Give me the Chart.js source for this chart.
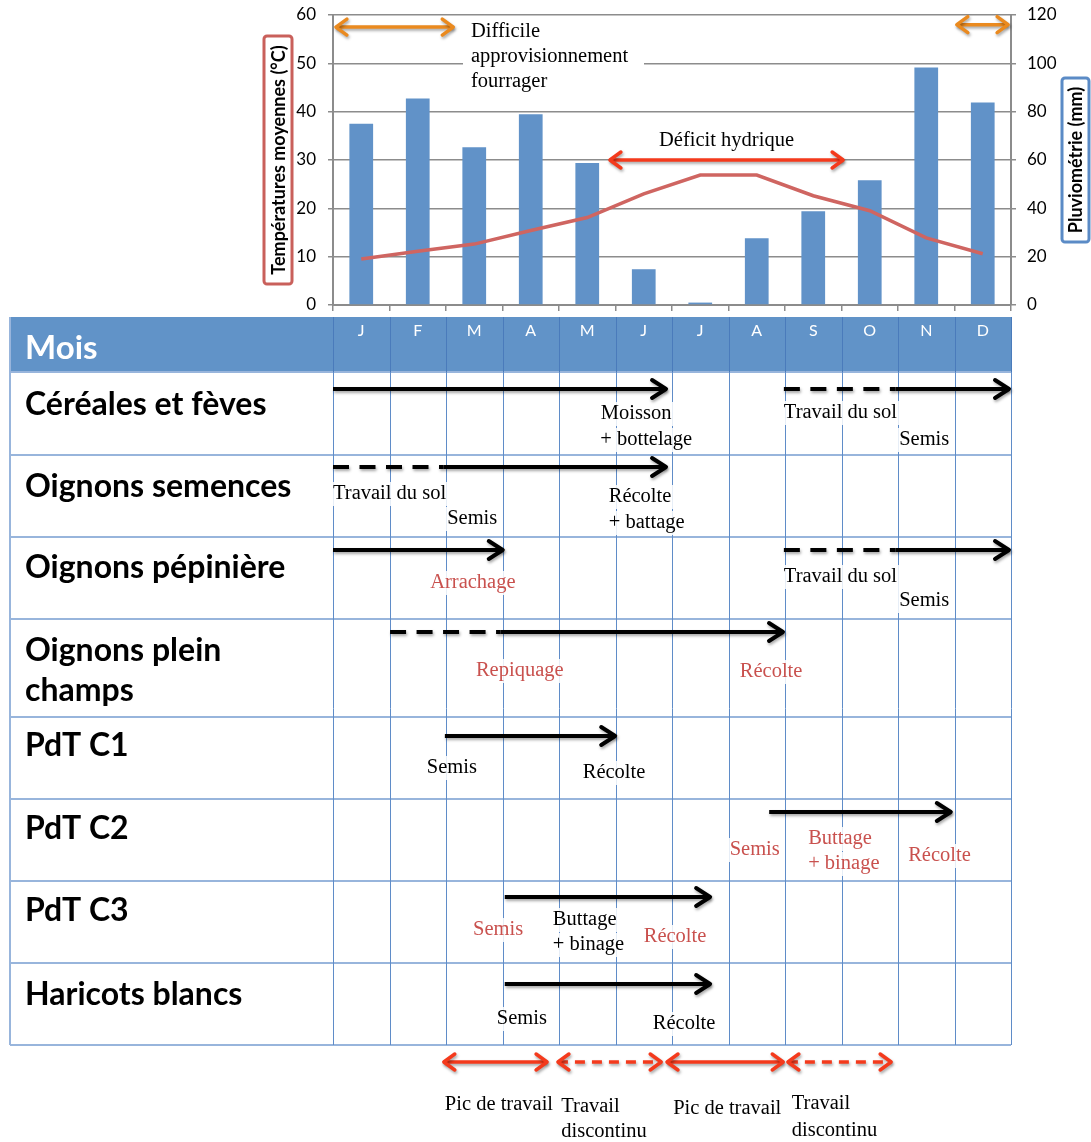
<!DOCTYPE html>
<html><head><meta charset="utf-8">
<script src="https://cdn.jsdelivr.net/npm/chart.js@4/dist/chart.umd.min.js"></script>
<style>html,body{margin:0;padding:0;background:#fff;}canvas{display:block;}</style>
</head><body>
<canvas id="c" width="1091" height="1142"></canvas>
<script>
// ---------- data ----------
const months = ['J','F','M','A','M','J','J','A','S','O','N','D'];
const rainfall = [75, 85.4, 65.3, 78.9, 58.8, 14.8, 1, 27.6, 38.8, 51.6, 98.3, 83.8];      // mm
const temperature = [9.5, 11.1, 12.6, 15.4, 18.1, 23.0, 26.9, 26.9, 22.6, 19.5, 13.9, 10.6]; // °C
const tempRange = [0, 60, 10];
const rainRange = [0, 120, 20];

const crops = ['Céréales et fèves', 'Oignons semences', 'Oignons pépinière', 'Oignons plein\nchamps',
               'PdT C1', 'PdT C2', 'PdT C3', 'Haricots blancs'];
// crop operations (months elapsed since 1 January)
const opRow    = [0, 0, 0, 1, 1, 2, 2, 2, 3, 3, 4, 5, 6, 7];
const opStart  = [0, 7.98, 9.96, 0, 1.96, 0, 7.98, 9.96, 1.01, 2.96, 1.98, 7.72, 3.04, 3.04];
const opEnd    = [5.93, 9.96, 12, 1.96, 5.93, 3.04, 9.96, 12, 2.96, 8.0, 5.03, 10.97, 6.71, 6.71];
const opDashed = [0, 1, 0, 1, 0, 0, 1, 0, 1, 0, 0, 0, 0, 0];

// notes: [row, month, text, red]
const notes = [
  [0, 4.74, 'Moisson', 0], [0, 4.73, '+ bottelage', 0], [0, 7.98, 'Travail du sol', 0], [0, 10.02, 'Semis', 0],
  [1, 0, 'Travail du sol', 0], [1, 2.02, 'Semis', 0], [1, 4.88, 'Récolte', 0], [1, 4.88, '+ battage', 0],
  [2, 1.72, 'Arrachage', 1], [2, 7.98, 'Travail du sol', 0], [2, 10.02, 'Semis', 0],
  [3, 2.53, 'Repiquage', 1], [3, 7.2, 'Récolte', 1],
  [4, 1.66, 'Semis', 0], [4, 4.42, 'Récolte', 0],
  [5, 7.02, 'Semis', 1], [5, 8.41, 'Buttage', 1], [5, 8.41, '+ binage', 1], [5, 10.18, 'Récolte', 1],
  [6, 2.48, 'Semis', 1], [6, 3.89, 'Buttage', 0], [6, 3.89, '+ binage', 0], [6, 5.5, 'Récolte', 1],
  [7, 2.9, 'Semis', 0], [7, 5.66, 'Récolte', 0]
];
const noteDy = [42, 68, 41, 68, 39, 64, 42, 68, 46, 40, 64, 52, 53, 51, 56, 51, 40, 65, 57, 49, 39, 64, 56, 56, 61];

const workStart  = [1.93, 3.95, 5.88, 8.02];
const workEnd    = [3.82, 5.84, 8.0, 9.91];
const workDashed = [0, 1, 0, 1];
const workLabel  = ['Pic de travail', 'Travail\ndiscontinu', 'Pic de travail', 'Travail\ndiscontinu'];
const workLabelMonth = [1.98, 4.04, 6.02, 8.12];

const forageStart = [0.02, 11.01], forageEnd = [2.16, 11.98], forageLevel = [57.5, 58];
const deficitStart = 4.87, deficitEnd = 9.06, deficitLevel = 30;

// ---------- layout ----------
const SANS = 'Lato, Carlito, "Open Sans", sans-serif';
const SERIF = '"Liberation Serif", "DejaVu Serif", serif';
const NOTE_FONT = '20.5px ' + SERIF;
const L = {
  tableLeft: 10, headerTop: 317, headerBottom: 372,
  rowTops: [372, 455, 537, 619, 717, 799, 881, 963], tableBottom: 1045,
  arrowDy: [17, 12, 13, 13, 19, 13, 16, 21],
  labelDy: [33, 32, 31, 32, 29, 30, 30, 32],
  workY: 1062
};

function drawArrow(ctx, x1, x2, y, o) {
  ctx.save();
  ctx.strokeStyle = o.color; ctx.lineWidth = o.width;
  ctx.shadowColor = 'rgba(0,0,0,0.35)'; ctx.shadowBlur = 3; ctx.shadowOffsetX = 1; ctx.shadowOffsetY = 2;
  const t = o.width / 2;
  const a = o.headStart ? x1 + t : x1, b = o.headEnd ? x2 - t : x2;
  ctx.lineCap = 'butt';
  ctx.setLineDash(o.dash || []);
  ctx.beginPath(); ctx.moveTo(a, y); ctx.lineTo(b, y); ctx.stroke();
  ctx.setLineDash([]);
  ctx.lineCap = 'round'; ctx.lineJoin = 'round';
  if (o.headEnd) { const tip = x2 - t; ctx.beginPath(); ctx.moveTo(tip - o.hl, y - o.hw); ctx.lineTo(tip, y); ctx.lineTo(tip - o.hl, y + o.hw); ctx.stroke(); }
  if (o.headStart) { const tip = x1 + t; ctx.beginPath(); ctx.moveTo(tip + o.hl, y - o.hw); ctx.lineTo(tip, y); ctx.lineTo(tip + o.hl, y + o.hw); ctx.stroke(); }
  ctx.restore();
}

const overlay = {
  id: 'overlay',
  afterDraw(chart) {
    const ctx = chart.ctx, xs = chart.scales.x, ys = chart.scales.y;
    const mx = m => xs.getPixelForValue(m - 0.5);
    ctx.save();
    // --- axis titles in boxes ---
    function boxTitle(x0, y0, w, h, color, text) {
      ctx.save();
      ctx.strokeStyle = color; ctx.lineWidth = 3;
      ctx.beginPath(); ctx.roundRect(x0, y0, w, h, 3); ctx.stroke();
      ctx.translate(x0 + w / 2, y0 + h / 2); ctx.rotate(-Math.PI / 2);
      ctx.fillStyle = '#000'; ctx.font = 'bold 18px ' + SANS;
      ctx.textAlign = 'center'; ctx.textBaseline = 'middle';
      ctx.fillText(text, 0, 1);
      ctx.restore();
    }
    boxTitle(264, 36, 28, 248, '#c9605b', 'Températures moyennes (°C)');
    boxTitle(1062, 78, 27, 164, '#5b8bc6', 'Pluviométrie (mm)');

    // --- top annotations ---
    ctx.fillStyle = '#fff'; ctx.fillRect(463, 19, 181, 76);
    ctx.fillStyle = '#000'; ctx.font = NOTE_FONT; ctx.textAlign = 'left'; ctx.textBaseline = 'middle';
    ctx.fillText('Difficile', 471, 32); ctx.fillText('approvisionnement', 471, 57); ctx.fillText('fourrager', 471, 82);
    for (let i = 0; i < forageStart.length; i++) {
      drawArrow(ctx, mx(forageStart[i]), mx(forageEnd[i]), ys.getPixelForValue(forageLevel[i]),
        {color: '#ea8a1f', width: 3.5, headStart: true, headEnd: true, hl: 11, hw: 8});
    }
    drawArrow(ctx, mx(deficitStart), mx(deficitEnd), ys.getPixelForValue(deficitLevel),
      {color: '#f43a1c', width: 3.5, headStart: true, headEnd: true, hl: 11, hw: 8});
    ctx.fillStyle = '#000'; ctx.textAlign = 'center';
    ctx.fillText('Déficit hydrique', (mx(deficitStart) + mx(deficitEnd)) / 2, ys.getPixelForValue(34));

    // --- table ---
    const left = L.tableLeft, right = mx(12);
    ctx.fillStyle = '#6193c8';
    ctx.fillRect(left, L.headerTop, right - left, L.headerBottom - L.headerTop);
    ctx.fillStyle = '#fff'; ctx.font = 'bold 33px ' + SANS; ctx.textAlign = 'left'; ctx.textBaseline = 'middle';
    ctx.fillText('Mois', 25, 348);
    ctx.font = '16px ' + SANS; ctx.textAlign = 'center';
    months.forEach((m, i) => ctx.fillText(m, xs.getPixelForValue(i), 331));
    // horizontal lines
    ctx.strokeStyle = '#98b5dc'; ctx.lineWidth = 2;
    const hLines = [L.headerBottom, ...L.rowTops.slice(1), L.tableBottom];
    hLines.forEach(y => { ctx.beginPath(); ctx.moveTo(left, y); ctx.lineTo(right, y); ctx.stroke(); });
    ctx.beginPath(); ctx.moveTo(left, L.headerTop); ctx.lineTo(left, L.tableBottom); ctx.stroke();
    // vertical lines
    for (let i = 0; i <= 12; i++) {
      const x = Math.round(mx(i)) + 0.5;
      ctx.strokeStyle = '#4a7bbb'; ctx.lineWidth = 1;
      ctx.beginPath(); ctx.moveTo(x, L.headerTop); ctx.lineTo(x, L.headerBottom); ctx.stroke();
      ctx.strokeStyle = '#5f8cc8';
      ctx.beginPath(); ctx.moveTo(x, L.headerBottom); ctx.lineTo(x, L.tableBottom); ctx.stroke();
    }
    // row labels
    ctx.fillStyle = '#000'; ctx.font = 'bold 32px ' + SANS; ctx.textAlign = 'left'; ctx.textBaseline = 'middle';
    crops.forEach((c, r) => {
      c.split('\n').forEach((line, k) => ctx.fillText(line, 25, L.rowTops[r] + L.labelDy[r] + k * 40));
    });
    // notes
    ctx.font = NOTE_FONT;
    notes.forEach((n, i) => {
      const x = mx(n[1]), y = L.rowTops[n[0]] + noteDy[i];
      const w = ctx.measureText(n[2]).width;
      ctx.fillStyle = 'rgba(255,255,255,0.85)'; ctx.fillRect(x - 2, y - 12, w + 4, 24);
    });
    notes.forEach((n, i) => {
      ctx.fillStyle = n[3] ? '#c9514e' : '#000';
      ctx.fillText(n[2], mx(n[1]), L.rowTops[n[0]] + noteDy[i]);
    });
    // operation arrows
    for (let i = 0; i < opRow.length; i++) {
      const y = L.rowTops[opRow[i]] + L.arrowDy[opRow[i]];
      drawArrow(ctx, mx(opStart[i]), mx(opEnd[i]), y,
        {color: '#000', width: 4, headEnd: !opDashed[i], dash: opDashed[i] ? [16, 10.5] : null, hl: 14, hw: 9});
    }
    // work periods
    for (let i = 0; i < workStart.length; i++) {
      drawArrow(ctx, mx(workStart[i]), mx(workEnd[i]), L.workY,
        {color: '#f43a1c', width: 3.5, headStart: true, headEnd: true, dash: workDashed[i] ? [10, 7] : null, hl: 11, hw: 8});
    }
    ctx.fillStyle = '#000'; ctx.font = NOTE_FONT; ctx.textAlign = 'left';
    const wy = [[1105], [1107, 1132], [1109], [1104, 1131]];
    workLabel.forEach((t, i) => t.split('\n').forEach((line, k) => ctx.fillText(line, mx(workLabelMonth[i]), wy[i][k])));
    ctx.restore();
  }
};

new Chart(document.getElementById('c'), {
  data: {
    labels: months,
    datasets: [
      {type: 'line', label: 'Températures moyennes (°C)', data: temperature, yAxisID: 'y',
       borderColor: '#cf6561', borderWidth: 3.5, pointRadius: 0, tension: 0, order: 0},
      {type: 'bar', label: 'Pluviométrie (mm)', data: rainfall, yAxisID: 'y1',
       backgroundColor: '#6192c8', barPercentage: 0.42, categoryPercentage: 1, order: 1}
    ]
  },
  options: {
    responsive: false, animation: false, devicePixelRatio: 1,
    layout: {padding: {top: 15, left: 0, right: 0, bottom: 0}},
    plugins: {legend: {display: false}, tooltip: {enabled: false}},
    scales: {
      x: {position: 'bottom', offset: true,
          grid: {offset: true, drawOnChartArea: false, drawTicks: true, tickLength: 6, color: '#8c8c8c', lineWidth: 1.5},
          border: {color: '#8c8c8c', width: 2},
          ticks: {display: false},
          afterFit: s => { s.height = 1142 - 305; s.paddingLeft = 0; s.paddingRight = 0; }},
      y: {position: 'left', min: tempRange[0], max: tempRange[1],
          ticks: {stepSize: tempRange[2], color: '#000', font: {family: SANS, size: 17}, padding: 12},
          grid: {color: '#8c8c8c', lineWidth: 1.5, tickLength: 5},
          border: {color: '#8c8c8c', width: 2},
          afterFit: s => { s.width = 333; s.paddingTop = 0; s.paddingBottom = 0; }},
      y1: {position: 'right', min: rainRange[0], max: rainRange[1],
          ticks: {stepSize: rainRange[2], color: '#000', font: {family: SANS, size: 17}, padding: 11},
          grid: {drawOnChartArea: false, color: '#8c8c8c', lineWidth: 1.5, tickLength: 5},
          border: {color: '#8c8c8c', width: 2},
          afterFit: s => { s.width = 1091 - 1011; s.paddingTop = 0; s.paddingBottom = 0; }}
    }
  },
  plugins: [overlay]
});
</script>
</body></html>
